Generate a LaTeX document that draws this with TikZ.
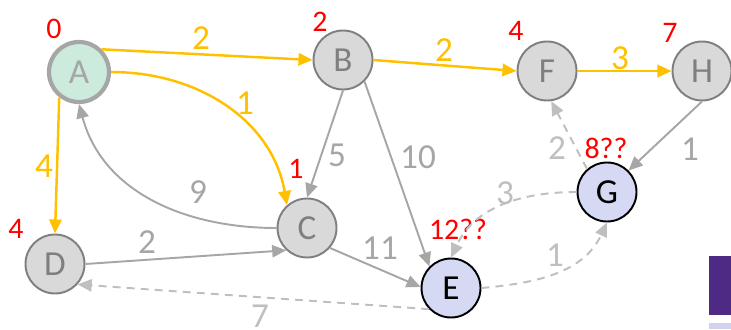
\documentclass[tikz,border=0pt]{standalone}
\usepackage{fontspec}
\setmainfont{Carlito}
\usetikzlibrary{arrows.meta}
\definecolor{gold}{HTML}{FFC000}
\definecolor{edgegray}{HTML}{A6A6A6}
\definecolor{dashgray}{HTML}{BFBFBF}
\definecolor{rimgray}{HTML}{7F7F7F}
\definecolor{vfill}{HTML}{D9D9D9}
\definecolor{mint}{HTML}{CCEBDD}
\definecolor{lav}{HTML}{D6D9F4}
\definecolor{nwpurple}{HTML}{4E2A84}
\definecolor{lavbar}{HTML}{D0D2EE}
\tikzset{>={Triangle[length=8pt,width=7pt]}}
\tikzset{
  vtx/.style={circle, draw=rimgray, line width=1.1pt, fill=vfill, text=rimgray,
    minimum size=1.18cm, inner sep=0pt, font=\fontsize{20}{20}\selectfont},
  src/.style={vtx, draw=edgegray, line width=2.4pt, fill=mint, text=edgegray, minimum size=1.2cm},
  open/.style={vtx, draw=black, fill=lav, text=black},
  dist/.style={text=red, font=\fontsize{17}{17}\selectfont},
  wt/.style={font=\fontsize{20}{20}\selectfont},
  tree/.style={->, gold, line width=1.4pt},
  plain/.style={->, edgegray, line width=1.1pt},
  tent/.style={->, dashgray, line width=1.1pt, dash pattern=on 4.5pt off 3.5pt},
}

\begin{document}
\begin{tikzpicture}
\useasboundingbox (0,0) rectangle (14.62,6.58);
\fill[nwpurple] (14.18,0.28) rectangle (14.62,1.46);
\fill[lavbar] (14.18,0) rectangle (14.62,0.12);

\node[src] (A) at (1.58,5.14) {A};
\node[vtx] (B) at (6.86,5.38) {B};
\node[vtx] (C) at (6.14,2.02) {C};
\node[vtx] (D) at (1.10,1.30) {D};
\node[open] (E) at (9.02,0.82) {E};
\node[vtx] (F) at (10.94,5.16) {F};
\node[open] (G) at (12.14,2.74) {G};
\node[vtx] (H) at (14.04,5.16) {H};

\node[dist] (dA) at (1.08,6.00) {0};
\node[dist] (dB) at (6.40,6.14) {2};
\node[dist] (dC) at (5.92,3.20) {1};
\node[dist] (dD) at (0.32,2.00) {4};
\node[dist] (dE) at (9.16,2.00) {12??};
\node[dist] (dF) at (10.32,5.96) {4};
\node[dist] (dG) at (12.12,3.62) {8??};
\node[dist] (dH) at (13.40,5.92) {7};

\draw[tree] (A.45) -- (B.west);
\draw[tree] (A.east) to[out=0,in=100] (C.131);
\draw[tree] (A.232) -- (D.north);
\draw[tree] (B.east) -- (F.west);
\draw[tree] (F.east) -- (H.west);
\node[wt, gold] (wAB) at (4.02,5.82) {2};
\node[wt, gold] (wAC) at (4.90,4.52) {1};
\node[wt, gold] (wAD) at (0.88,3.26) {4};
\node[wt, gold] (wBF) at (8.88,5.58) {2};
\node[wt, gold] (wFH) at (12.40,5.42) {3};

\draw[plain] (B.south) -- (C.north);
\draw[plain] (B.-45) -- (E.135);
\draw[plain] (C.west) to[out=180,in=-75] (A.south);
\draw[plain] (D.east) -- (C.227);
\draw[plain] (C.-41) -- (E.178);
\draw[plain] (H.south) -- (G.45);
\node[wt, edgegray] (wBC) at (6.74,3.48) {5};
\node[wt, edgegray] (wBE) at (8.36,3.44) {10};
\node[wt, edgegray] (wCA) at (3.96,2.74) {9};
\node[wt, edgegray] (wDC) at (2.94,1.74) {2};
\node[wt, edgegray] (wCE) at (7.60,1.62) {11};
\node[wt, edgegray] (wHG) at (13.80,3.60) {1};

\draw[tent] (G.131) -- (F.-82);
\draw[tent] (G.west) to[out=180,in=65] (E.north);
\draw[tent] (E.east) to[out=5,in=-115] (G.south);
\draw[tent] (E.224) -- (D.-42);
\node[wt, dashgray] (wGF) at (11.14,3.62) {2};
\node[wt, dashgray] (wGE) at (10.10,2.72) {3};
\node[wt, dashgray] (wEG) at (11.10,1.48) {1};
\node[wt, dashgray] (wED) at (5.20,0.26) {7};
\end{tikzpicture}
\end{document}
